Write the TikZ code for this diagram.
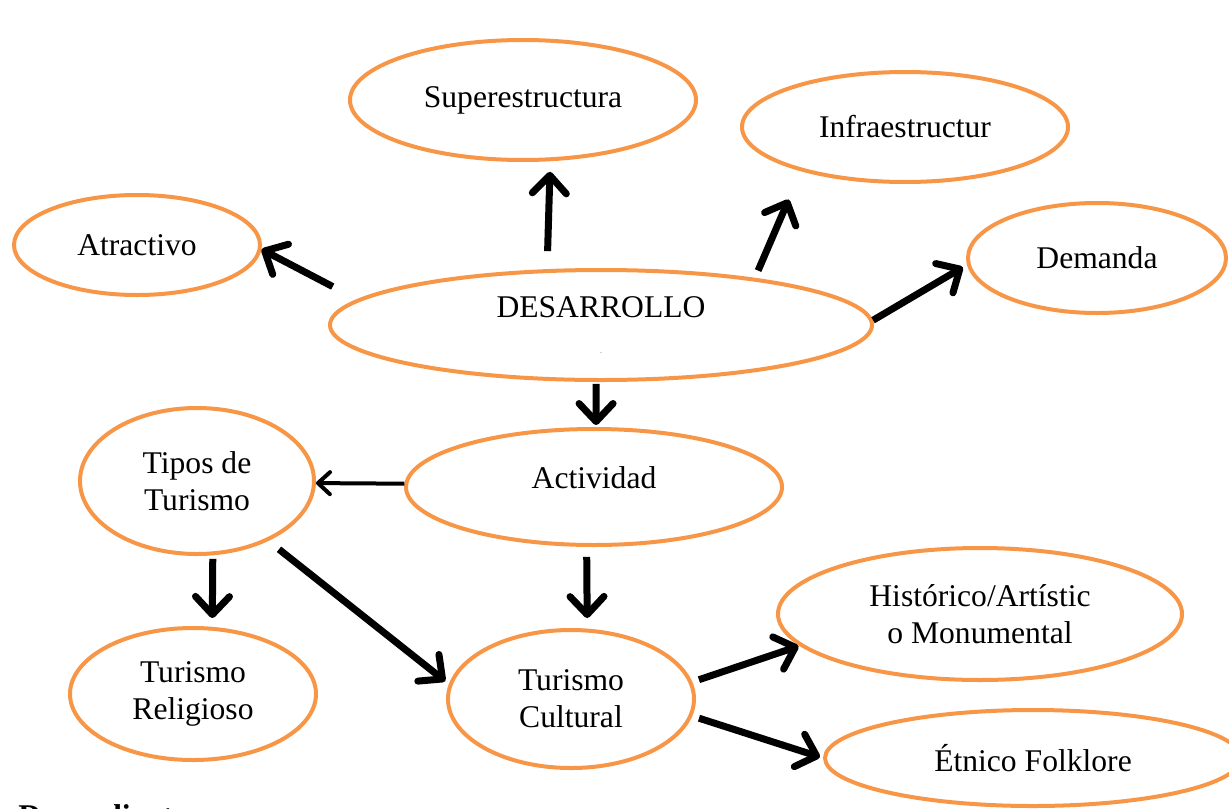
\documentclass[tikz,border=0pt]{standalone}
\usepackage{fontspec}
\setmainfont{Liberation Serif}
\usetikzlibrary{shapes.geometric,arrows.meta}
\definecolor{naranja}{RGB}{247,150,70}

\begin{document}
\begin{tikzpicture}[x=0.5pt, y=-0.5pt,
    idea/.style={ellipse, draw=naranja, line width=2pt, inner sep=0pt,
        align=center, font=\fontsize{15.8}{18.4}\selectfont},
    flecha/.style={line width=3.5pt, -{Straight Barb[length=9pt,width=17pt,round]}},
    flechita/.style={line width=2pt, -{Straight Barb[length=6pt,width=11pt,round]}}]
    \useasboundingbox (0,0) rectangle (1229,808);
    % nodos
    \node[idea, minimum width=173pt, minimum height=60pt] (sup) at (523,100) {Superestructura};
    \node[idea, minimum width=163pt, minimum height=55pt] (inf) at (905,127) {Infraestructur};
    \node[idea, minimum width=123pt, minimum height=50pt] (atr) at (137,245) {Atractivo};
    \node[idea, minimum width=129pt, minimum height=55pt] (dem) at (1097,258) {Demanda};
    \node[idea, minimum width=271pt, minimum height=55pt] (des) at (601,325)
        {DESARROLLO\\{\fontsize{3}{3}\selectfont .}};
    \node[idea, minimum width=188pt, minimum height=58pt, text depth=9pt] (act) at (594,487) {Actividad};
    \node[idea, minimum width=117pt, minimum height=73pt] (tip) at (197,481) {Tipos de\\Turismo};
    \node[idea, minimum width=123pt, minimum height=66pt] (rel) at (193,694) {Turismo\\Religioso};
    \node[idea, minimum width=123pt, minimum height=69pt] (cul) at (571,699) {Turismo\\Cultural};
    \node[idea, minimum width=202pt, minimum height=66pt] (his) at (980,614) {Histórico/Artístic\\o Monumental};
    \node[idea, minimum width=208pt, minimum height=48pt] (etn) at (1033,758) {Étnico Folklore};
    \node[anchor=base west, inner sep=0pt, font=\bfseries\fontsize{15.8}{18}\selectfont] (dep) at (18,826) {Dependiente};
    % flechas
    \draw[flecha, shorten <=13.8pt] (des.174) -- (atr.-2);
    \draw[flecha, shorten <=9pt, shorten >=5.3pt] (des.134) -- (sup.-66);
    \draw[flecha, shorten <=4pt, shorten >=15.4pt] (des.17) -- (inf.203);
    \draw[flecha, shorten >=2.4pt] (des.1) -- (dem.183);
    \draw[flecha, shorten <=1pt, shorten >=1pt] (des.265) -- (act.88);
    \draw[flechita] (act.179) -- (tip.-1);
    \draw[flecha, shorten <=1.8pt, shorten >=4.4pt] (tip.-78) -- (rel.74);
    \draw[flecha, shorten <=6.7pt, shorten >=2.3pt] (tip.-40) -- (cul.173);
    \draw[flecha, shorten <=5pt, shorten >=5.3pt] (act.263) -- (cul.77);
    \draw[flecha, shorten <=3.5pt, shorten >=0.6pt] (cul.8) -- (his.190);
    \draw[flecha, shorten <=3.5pt, shorten >=1.6pt] (cul.-8) -- (etn.180);
\end{tikzpicture}
\end{document}
